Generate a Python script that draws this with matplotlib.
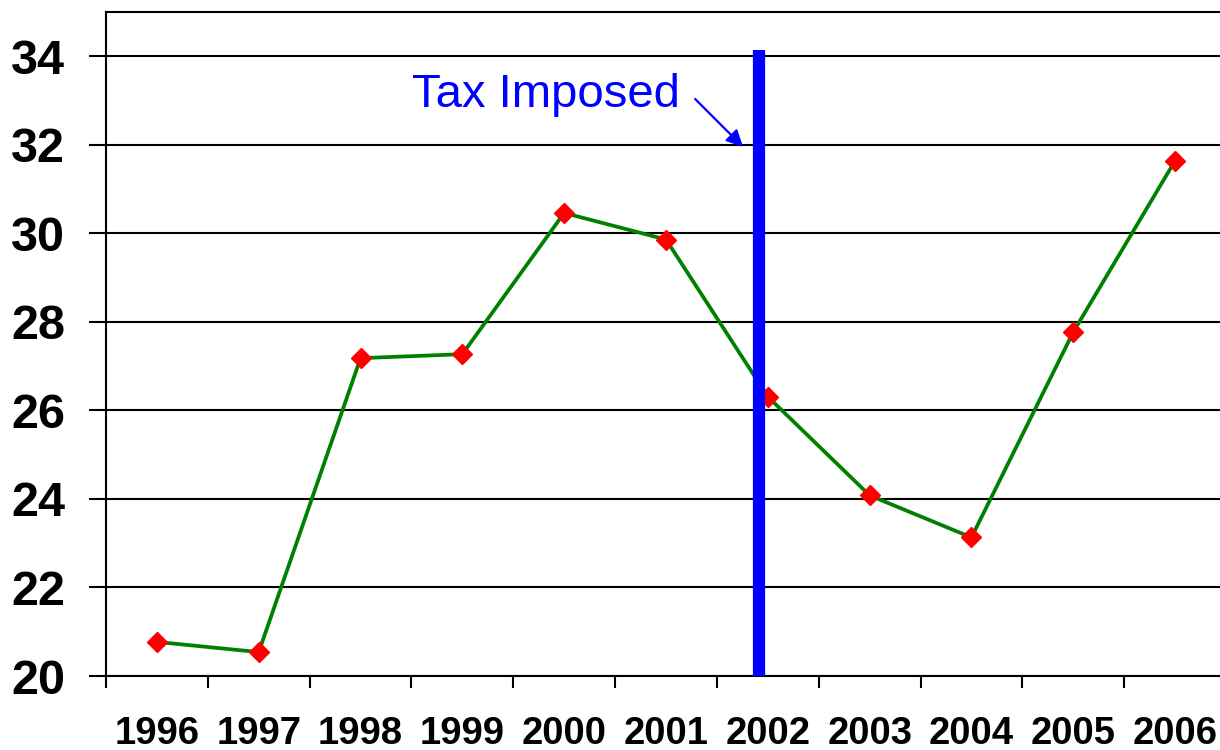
import numpy as np
import matplotlib.pyplot as plt

plt.rcParams['font.family'] = ['Liberation Sans', 'DejaVu Sans']

years = ['1996', '1997', '1998', '1999', '2000', '2001',
         '2002', '2003', '2004', '2005', '2006']
values = [20.77, 20.54, 27.18, 27.27, 30.46, 29.86,
          26.31, 24.08, 23.13, 27.77, 31.64]
yticks = [20, 22, 24, 26, 28, 30, 32, 34]
tax_label = 'Tax Imposed'

fig = plt.figure(figsize=(12.2, 7.5), dpi=100)
ax = fig.add_axes([106/1220, 74/750, 1120/1220, 664/750])

x = np.arange(len(years))
ax.plot(x, values, color='#008000', lw=2.7, zorder=3)
ax.plot(x, values, ls='none', marker='D', ms=10.5, color='#ff0000',
        mec='#ff0000', zorder=4)

# tax line, drawn over the series
ax.plot([5.91, 5.91], [20, 34.15], color='#0000ff', lw=8.8,
        solid_capstyle='butt', zorder=5)
ax.text(2.506, 32.855, tax_label, color='#0000ff', fontsize=34,
        va='baseline', ha='left')
ax.annotate('', xy=(5.757, 31.952), xytext=(5.286, 33.036),
            arrowprops=dict(arrowstyle='-|>', color='#0000ff', lw=1.6,
                            mutation_scale=25, shrinkA=0, shrinkB=0))

ax.set_xlim(-0.5, 10.5)
ax.set_ylim(20, 35)

ax.set_yticks(yticks)
ax.set_yticklabels([str(t) for t in yticks], fontsize=35, fontweight='bold')
ax.tick_params(axis='y', length=12.5, width=1.5, pad=17, color='black')
ax.yaxis.grid(True, color='black', lw=1.5)
ax.set_axisbelow(True)

ax.set_xticks(np.arange(-0.5, 11, 1))
ax.set_xticklabels([])
ax.tick_params(axis='x', which='major', length=8.6, width=1.5, color='black')
ax.set_xticks(x, minor=True)
ax.set_xticklabels(years, minor=True, fontsize=27.5, fontweight='bold')
ax.tick_params(axis='x', which='minor', length=0, pad=29)

for s in ax.spines.values():
    s.set_linewidth(1.5)
    s.set_color('black')

fig.savefig('out.png', dpi=100)
